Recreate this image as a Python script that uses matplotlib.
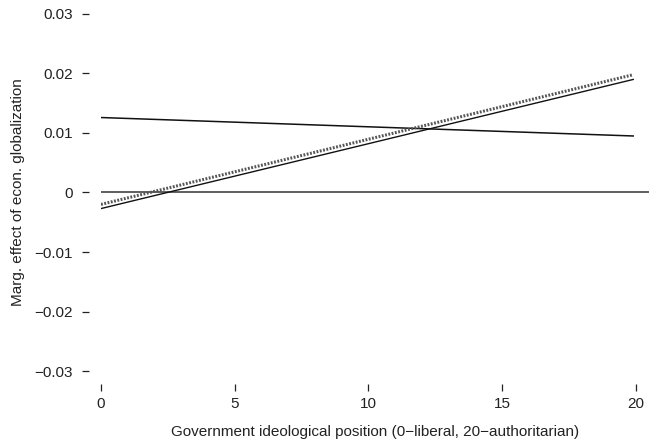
import matplotlib
matplotlib.use('Agg')
import matplotlib.pyplot as plt
import numpy as np

plt.rcParams['font.family'] = ['Liberation Sans', 'DejaVu Sans']

# ideology positions at the ends of the estimated lines
x_pos = [0, 19.9]
# marginal effect of econ. globalization at those positions
effect_flat = [0.0126, 0.0095]
effect_dotted = [-0.0020, 0.0198]
effect_solid = [-0.0027, 0.0190]

x_ticks = [0, 5, 10, 15, 20]
y_ticks = [-0.03, -0.02, -0.01, 0, 0.01, 0.02, 0.03]
y_tick_labels = ['\u22120.03', '\u22120.02', '\u22120.01', '0', '0.01', '0.02', '0.03']

W, H = 649, 444
fig = plt.figure(figsize=(W / 100, H / 100), dpi=100)
left, right, top, bottom = 101, 649, 14, 371
ax = fig.add_axes([left / W, 1 - bottom / H, (right - left) / W, (bottom - top) / H])

ax.axhline(0, color='#333333', linewidth=1.1)
ax.plot(x_pos, effect_flat, color='#111111', linewidth=1.1)
ax.plot(x_pos, effect_solid, color='#111111', linewidth=1.0)
ax.plot(x_pos, effect_dotted, color='#555555', linewidth=2.2, linestyle=(0, (0.6, 0.5)))

ax.set_xlim(0, 20.49)
ax.set_ylim(-0.03, 0.03)

for s in ['top', 'right']:
    ax.spines[s].set_visible(False)
ax.spines['left'].set_position(('outward', 9))
ax.spines['bottom'].set_position(('outward', 9))
ax.spines['left'].set_visible(False)
ax.spines['bottom'].set_visible(False)

ax.set_xticks(x_ticks)
ax.set_xticklabels([str(t) for t in x_ticks])
ax.set_yticks(y_ticks)
ax.set_yticklabels(y_tick_labels)
ax.tick_params(axis='both', direction='out', length=5, width=0.9, color='#222222',
               labelsize=11, labelcolor='#222222')
ax.tick_params(axis='y', pad=6)
ax.tick_params(axis='x', pad=5)

ax.set_xlabel('Government ideological position (0\u2212liberal, 20\u2212authoritarian)',
              fontsize=11, color='#222222', labelpad=10)
ax.set_ylabel('Marg. effect of econ. globalization', fontsize=11, color='#222222', labelpad=7)

fig.savefig('out.png', dpi=100)
